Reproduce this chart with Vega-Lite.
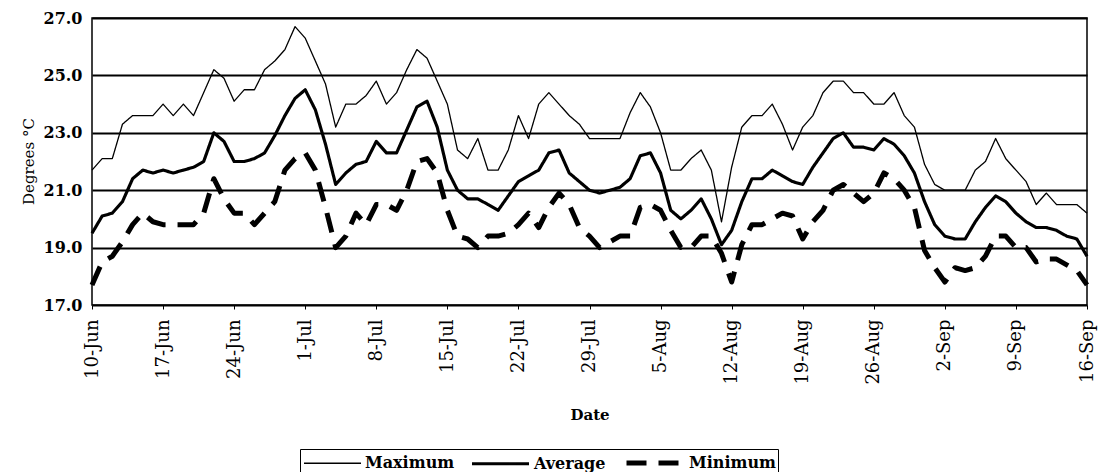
{
  "$schema": "https://vega.github.io/schema/vega-lite/v6.json",
  "width": 995,
  "height": 287,
  "autosize": {"type": "none"},
  "padding": {"left": 92, "top": 18, "right": 11, "bottom": 167},
  "background": "white",
  "config": {
    "font": "DejaVu Serif",
    "view": {"stroke": "black", "strokeWidth": 1.5},
    "legend": {
      "orient": "none",
      "legendX": 208,
      "legendY": 431,
      "direction": "horizontal",
      "strokeColor": "black",
      "padding": 2,
      "symbolType": "M-3,0H3",
      "symbolSize": 361,
      "symbolOffset": 20,
      "symbolStrokeColor": "black",
      "labelFont": "DejaVu Serif",
      "labelFontSize": 16,
      "labelFontWeight": "bold",
      "labelColor": "black",
      "labelOffset": 22,
      "columnPadding": 10
    }
  },
  "data": {
    "values": [
      {"date": "2003-06-10", "Maximum": 21.7, "Average": 19.5, "Minimum": 17.7},
      {"date": "2003-06-11", "Maximum": 22.1, "Average": 20.1, "Minimum": 18.5},
      {"date": "2003-06-12", "Maximum": 22.1, "Average": 20.2, "Minimum": 18.7},
      {"date": "2003-06-13", "Maximum": 23.3, "Average": 20.6, "Minimum": 19.2},
      {"date": "2003-06-14", "Maximum": 23.6, "Average": 21.4, "Minimum": 19.8},
      {"date": "2003-06-15", "Maximum": 23.6, "Average": 21.7, "Minimum": 20.2},
      {"date": "2003-06-16", "Maximum": 23.6, "Average": 21.6, "Minimum": 19.9},
      {"date": "2003-06-17", "Maximum": 24.0, "Average": 21.7, "Minimum": 19.8},
      {"date": "2003-06-18", "Maximum": 23.6, "Average": 21.6, "Minimum": 19.8},
      {"date": "2003-06-19", "Maximum": 24.0, "Average": 21.7, "Minimum": 19.8},
      {"date": "2003-06-20", "Maximum": 23.6, "Average": 21.8, "Minimum": 19.8},
      {"date": "2003-06-21", "Maximum": 24.4, "Average": 22.0, "Minimum": 20.2},
      {"date": "2003-06-22", "Maximum": 25.2, "Average": 23.0, "Minimum": 21.4},
      {"date": "2003-06-23", "Maximum": 24.9, "Average": 22.7, "Minimum": 20.7},
      {"date": "2003-06-24", "Maximum": 24.1, "Average": 22.0, "Minimum": 20.2},
      {"date": "2003-06-25", "Maximum": 24.5, "Average": 22.0, "Minimum": 20.2},
      {"date": "2003-06-26", "Maximum": 24.5, "Average": 22.1, "Minimum": 19.8},
      {"date": "2003-06-27", "Maximum": 25.2, "Average": 22.3, "Minimum": 20.2},
      {"date": "2003-06-28", "Maximum": 25.5, "Average": 22.9, "Minimum": 20.6},
      {"date": "2003-06-29", "Maximum": 25.9, "Average": 23.6, "Minimum": 21.7},
      {"date": "2003-06-30", "Maximum": 26.7, "Average": 24.2, "Minimum": 22.1},
      {"date": "2003-07-01", "Maximum": 26.3, "Average": 24.5, "Minimum": 22.3},
      {"date": "2003-07-02", "Maximum": 25.5, "Average": 23.8, "Minimum": 21.7},
      {"date": "2003-07-03", "Maximum": 24.7, "Average": 22.6, "Minimum": 20.4},
      {"date": "2003-07-04", "Maximum": 23.2, "Average": 21.2, "Minimum": 19.0},
      {"date": "2003-07-05", "Maximum": 24.0, "Average": 21.6, "Minimum": 19.4},
      {"date": "2003-07-06", "Maximum": 24.0, "Average": 21.9, "Minimum": 20.2},
      {"date": "2003-07-07", "Maximum": 24.3, "Average": 22.0, "Minimum": 19.8},
      {"date": "2003-07-08", "Maximum": 24.8, "Average": 22.7, "Minimum": 20.5},
      {"date": "2003-07-09", "Maximum": 24.0, "Average": 22.3, "Minimum": 20.5},
      {"date": "2003-07-10", "Maximum": 24.4, "Average": 22.3, "Minimum": 20.3},
      {"date": "2003-07-11", "Maximum": 25.2, "Average": 23.1, "Minimum": 21.0},
      {"date": "2003-07-12", "Maximum": 25.9, "Average": 23.9, "Minimum": 22.0},
      {"date": "2003-07-13", "Maximum": 25.6, "Average": 24.1, "Minimum": 22.1},
      {"date": "2003-07-14", "Maximum": 24.8, "Average": 23.2, "Minimum": 21.6},
      {"date": "2003-07-15", "Maximum": 24.0, "Average": 21.7, "Minimum": 20.3},
      {"date": "2003-07-16", "Maximum": 22.4, "Average": 21.0, "Minimum": 19.4},
      {"date": "2003-07-17", "Maximum": 22.1, "Average": 20.7, "Minimum": 19.3},
      {"date": "2003-07-18", "Maximum": 22.8, "Average": 20.7, "Minimum": 19.0},
      {"date": "2003-07-19", "Maximum": 21.7, "Average": 20.5, "Minimum": 19.4},
      {"date": "2003-07-20", "Maximum": 21.7, "Average": 20.3, "Minimum": 19.4},
      {"date": "2003-07-21", "Maximum": 22.4, "Average": 20.8, "Minimum": 19.5},
      {"date": "2003-07-22", "Maximum": 23.6, "Average": 21.3, "Minimum": 19.8},
      {"date": "2003-07-23", "Maximum": 22.8, "Average": 21.5, "Minimum": 20.2},
      {"date": "2003-07-24", "Maximum": 24.0, "Average": 21.7, "Minimum": 19.7},
      {"date": "2003-07-25", "Maximum": 24.4, "Average": 22.3, "Minimum": 20.4},
      {"date": "2003-07-26", "Maximum": 24.0, "Average": 22.4, "Minimum": 20.9},
      {"date": "2003-07-27", "Maximum": 23.6, "Average": 21.6, "Minimum": 20.5},
      {"date": "2003-07-28", "Maximum": 23.3, "Average": 21.3, "Minimum": 19.7},
      {"date": "2003-07-29", "Maximum": 22.8, "Average": 21.0, "Minimum": 19.4},
      {"date": "2003-07-30", "Maximum": 22.8, "Average": 20.9, "Minimum": 19.0},
      {"date": "2003-07-31", "Maximum": 22.8, "Average": 21.0, "Minimum": 19.2},
      {"date": "2003-08-01", "Maximum": 22.8, "Average": 21.1, "Minimum": 19.4},
      {"date": "2003-08-02", "Maximum": 23.7, "Average": 21.4, "Minimum": 19.4},
      {"date": "2003-08-03", "Maximum": 24.4, "Average": 22.2, "Minimum": 20.4},
      {"date": "2003-08-04", "Maximum": 23.9, "Average": 22.3, "Minimum": 20.5},
      {"date": "2003-08-05", "Maximum": 23.0, "Average": 21.6, "Minimum": 20.3},
      {"date": "2003-08-06", "Maximum": 21.7, "Average": 20.3, "Minimum": 19.6},
      {"date": "2003-08-07", "Maximum": 21.7, "Average": 20.0, "Minimum": 19.0},
      {"date": "2003-08-08", "Maximum": 22.1, "Average": 20.3, "Minimum": 19.0},
      {"date": "2003-08-09", "Maximum": 22.4, "Average": 20.7, "Minimum": 19.4},
      {"date": "2003-08-10", "Maximum": 21.7, "Average": 20.0, "Minimum": 19.4},
      {"date": "2003-08-11", "Maximum": 19.9, "Average": 19.1, "Minimum": 18.8},
      {"date": "2003-08-12", "Maximum": 21.8, "Average": 19.6, "Minimum": 17.8},
      {"date": "2003-08-13", "Maximum": 23.2, "Average": 20.6, "Minimum": 19.1},
      {"date": "2003-08-14", "Maximum": 23.6, "Average": 21.4, "Minimum": 19.8},
      {"date": "2003-08-15", "Maximum": 23.6, "Average": 21.4, "Minimum": 19.8},
      {"date": "2003-08-16", "Maximum": 24.0, "Average": 21.7, "Minimum": 20.0},
      {"date": "2003-08-17", "Maximum": 23.3, "Average": 21.5, "Minimum": 20.2},
      {"date": "2003-08-18", "Maximum": 22.4, "Average": 21.3, "Minimum": 20.1},
      {"date": "2003-08-19", "Maximum": 23.2, "Average": 21.2, "Minimum": 19.3},
      {"date": "2003-08-20", "Maximum": 23.6, "Average": 21.8, "Minimum": 19.9},
      {"date": "2003-08-21", "Maximum": 24.4, "Average": 22.3, "Minimum": 20.3},
      {"date": "2003-08-22", "Maximum": 24.8, "Average": 22.8, "Minimum": 21.0},
      {"date": "2003-08-23", "Maximum": 24.8, "Average": 23.0, "Minimum": 21.2},
      {"date": "2003-08-24", "Maximum": 24.4, "Average": 22.5, "Minimum": 20.9},
      {"date": "2003-08-25", "Maximum": 24.4, "Average": 22.5, "Minimum": 20.6},
      {"date": "2003-08-26", "Maximum": 24.0, "Average": 22.4, "Minimum": 20.9},
      {"date": "2003-08-27", "Maximum": 24.0, "Average": 22.8, "Minimum": 21.6},
      {"date": "2003-08-28", "Maximum": 24.4, "Average": 22.6, "Minimum": 21.4},
      {"date": "2003-08-29", "Maximum": 23.6, "Average": 22.2, "Minimum": 21.0},
      {"date": "2003-08-30", "Maximum": 23.2, "Average": 21.6, "Minimum": 20.4},
      {"date": "2003-08-31", "Maximum": 21.9, "Average": 20.6, "Minimum": 18.9},
      {"date": "2003-09-01", "Maximum": 21.2, "Average": 19.8, "Minimum": 18.3},
      {"date": "2003-09-02", "Maximum": 21.0, "Average": 19.4, "Minimum": 17.8},
      {"date": "2003-09-03", "Maximum": 21.0, "Average": 19.3, "Minimum": 18.3},
      {"date": "2003-09-04", "Maximum": 21.0, "Average": 19.3, "Minimum": 18.2},
      {"date": "2003-09-05", "Maximum": 21.7, "Average": 19.9, "Minimum": 18.3},
      {"date": "2003-09-06", "Maximum": 22.0, "Average": 20.4, "Minimum": 18.7},
      {"date": "2003-09-07", "Maximum": 22.8, "Average": 20.8, "Minimum": 19.4},
      {"date": "2003-09-08", "Maximum": 22.1, "Average": 20.6, "Minimum": 19.4},
      {"date": "2003-09-09", "Maximum": 21.7, "Average": 20.2, "Minimum": 19.0},
      {"date": "2003-09-10", "Maximum": 21.3, "Average": 19.9, "Minimum": 19.0},
      {"date": "2003-09-11", "Maximum": 20.5, "Average": 19.7, "Minimum": 18.5},
      {"date": "2003-09-12", "Maximum": 20.9, "Average": 19.7, "Minimum": 18.6},
      {"date": "2003-09-13", "Maximum": 20.5, "Average": 19.6, "Minimum": 18.6},
      {"date": "2003-09-14", "Maximum": 20.5, "Average": 19.4, "Minimum": 18.4},
      {"date": "2003-09-15", "Maximum": 20.5, "Average": 19.3, "Minimum": 18.2},
      {"date": "2003-09-16", "Maximum": 20.2, "Average": 18.7, "Minimum": 17.7}
    ]
  },
  "transform": [
    {"fold": ["Maximum", "Average", "Minimum"], "as": ["Series", "Temp"]}
  ],
  "mark": {"type": "line", "color": "black", "strokeJoin": "round"},
  "encoding": {
    "x": {
      "field": "date",
      "type": "temporal",
      "title": "Date",
      "scale": {
        "type": "utc",
        "domain": [
          {"year": 2003, "month": 6, "date": 10, "utc": true},
          {"year": 2003, "month": 9, "date": 16, "utc": true}
        ]
      },
      "axis": {
        "values": [
          {"year": 2003, "month": 6, "date": 10, "utc": true},
          {"year": 2003, "month": 6, "date": 17, "utc": true},
          {"year": 2003, "month": 6, "date": 24, "utc": true},
          {"year": 2003, "month": 7, "date": 1, "utc": true},
          {"year": 2003, "month": 7, "date": 8, "utc": true},
          {"year": 2003, "month": 7, "date": 15, "utc": true},
          {"year": 2003, "month": 7, "date": 22, "utc": true},
          {"year": 2003, "month": 7, "date": 29, "utc": true},
          {"year": 2003, "month": 8, "date": 5, "utc": true},
          {"year": 2003, "month": 8, "date": 12, "utc": true},
          {"year": 2003, "month": 8, "date": 19, "utc": true},
          {"year": 2003, "month": 8, "date": 26, "utc": true},
          {"year": 2003, "month": 9, "date": 2, "utc": true},
          {"year": 2003, "month": 9, "date": 9, "utc": true},
          {"year": 2003, "month": 9, "date": 16, "utc": true}
        ],
        "labelExpr": "utcFormat(datum.value, '%-d-%b')",
        "labelAngle": -90,
        "labelFont": "DejaVu Serif",
        "labelFontSize": 18,
        "labelColor": "black",
        "labelPadding": 10,
        "labelOverlap": false,
        "labelBound": false,
        "labelFlush": false,
        "grid": false,
        "domain": false,
        "ticks": true,
        "tickSize": 4,
        "tickColor": "black",
        "titleFont": "DejaVu Serif",
        "titleFontSize": 15,
        "titleFontWeight": "bold",
        "titleColor": "black",
        "titleY": 109,
        "titleBaseline": "middle"
      }
    },
    "y": {
      "field": "Temp",
      "type": "quantitative",
      "title": "Degrees °C",
      "scale": {"domain": [17, 27], "nice": false, "zero": false},
      "axis": {
        "values": [17, 19, 21, 23, 25, 27],
        "format": ".1f",
        "labelFont": "DejaVu Serif",
        "labelFontSize": 16,
        "labelFontWeight": "bold",
        "labelColor": "black",
        "labelPadding": 10,
        "grid": true,
        "gridColor": "black",
        "gridWidth": 2,
        "gridOpacity": 1,
        "domain": false,
        "ticks": false,
        "titleFont": "DejaVu Serif",
        "titleFontSize": 15,
        "titleFontWeight": "normal",
        "titleColor": "black",
        "titleX": -64,
        "titleY": 143,
        "titleAlign": "center",
        "titleBaseline": "middle",
        "titleAngle": -90
      }
    },
    "strokeWidth": {
      "field": "Series",
      "type": "nominal",
      "title": null,
      "scale": {"domain": ["Maximum", "Average", "Minimum"], "range": [1.3, 5, 2.5]}
    },
    "strokeDash": {
      "field": "Series",
      "type": "nominal",
      "title": null,
      "scale": {"domain": ["Maximum", "Average", "Minimum"], "range": [[1, 0], [1, 0], [20, 12]]}
    }
  }
}
